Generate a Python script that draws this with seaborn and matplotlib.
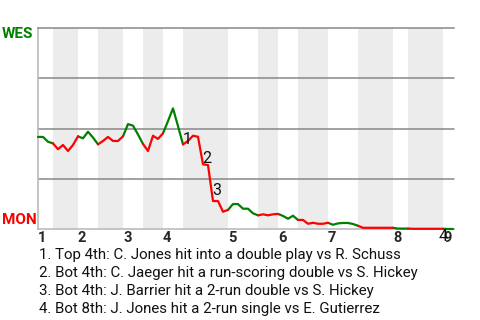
import matplotlib
matplotlib.use("Agg")
import matplotlib.pyplot as plt
import pandas as pd
import seaborn as sns

# ---------------- data ----------------
plays = list(range(84))
wes_prob = [0.458, 0.458, 0.434, 0.426, 0.397, 0.418, 0.388, 0.418, 0.461, 0.451,
            0.484, 0.455, 0.421, 0.438, 0.458, 0.438, 0.438, 0.461, 0.522, 0.514,
            0.470, 0.423, 0.388, 0.464, 0.448, 0.476, 0.537, 0.600, 0.512, 0.421,
            0.438, 0.464, 0.459, 0.322, 0.318, 0.139, 0.139, 0.086, 0.095, 0.124,
            0.124, 0.101, 0.101, 0.078, 0.068, 0.073, 0.068, 0.073, 0.075, 0.065,
            0.051, 0.066, 0.045, 0.045, 0.026, 0.031, 0.026, 0.026, 0.031, 0.021,
            0.028, 0.030, 0.030, 0.025, 0.016, 0.006, 0.006, 0.006, 0.006, 0.006,
            0.006, 0.006, 0.002, 0.002, 0.002, 0.001, 0.001, 0.001, 0.001, 0.001,
            0.001, 0.001, 0.000, 0.000]
half_starts = [0, 3, 8, 12, 17, 21, 25, 29, 38, 44, 48, 52, 58, 64, 71, 74, 81]
half_teams = ["WES", "MON"] * 8 + ["WES"]
inning_starts = [0, 8, 17, 25, 38, 48, 58, 71, 81]
inning_labels = ["1", "2", "3", "4", "5", "6", "7", "8", "9"]
event_plays = [29, 33, 35, 81]
event_labels = ["1", "2", "3", "4"]
event_texts = [
    "1. Top 4th: C. Jones hit into a double play vs R. Schuss",
    "2. Bot 4th: C. Jaeger hit a run-scoring double vs S. Hickey",
    "3. Bot 4th: J. Barrier hit a 2-run double vs S. Hickey",
    "4. Bot 8th: J. Jones hit a 2-run single vs E. Gutierrez",
]
away_team, home_team = "WES", "MON"

# ---------------- styling ----------------
sns.set_style("white")
plt.rcParams["font.family"] = ["Roboto", "DejaVu Sans"]
GREEN = "#008000"
RED = "#ff0000"
BAND = "#ececec"
GRID = "#888888"
SPINE = "#bbbbbb"
label_offsets = [(2.9, 3.6), (2.9, 4.2), (2.9, 7.6), (0.4, -5.9)]

# build segments (each half-inning includes the previous point)
rows = []
end_play = plays[-1]
for i, start in enumerate(half_starts):
    stop = half_starts[i + 1] if i + 1 < len(half_starts) else end_play
    for p in range(start, stop + 1):
        rows.append({"play": plays[p], "prob": wes_prob[p], "seg": i, "team": half_teams[i]})
df = pd.DataFrame(rows)

fig = plt.figure(figsize=(4.8, 3.2), dpi=100)
ax = fig.add_axes([38 / 480, 1 - 229 / 320, 416 / 480, 201 / 320])
ax.set_xlim(0, 83.2)
ax.set_ylim(0, 1)

# shaded bottom halves
for i in range(1, len(half_starts), 2):
    stop = half_starts[i + 1] if i + 1 < len(half_starts) else end_play
    ax.axvspan(half_starts[i], stop, color=BAND, lw=0, zorder=0)

for yv in [0.25, 0.5, 0.75]:
    ax.axhline(yv, color=GRID, lw=1.1, zorder=1)

sns.lineplot(data=df, x="play", y="prob", hue="team", units="seg", estimator=None,
             palette={away_team: GREEN, home_team: RED}, legend=False,
             linewidth=1.6, ax=ax, zorder=3, sort=False)
for line in ax.lines:
    line.set_clip_on(False)

ax.set_xlabel("")
ax.set_ylabel("")
ax.set_yticks([])
ax.set_xticks(inning_starts)
ax.set_xticklabels(inning_labels, fontsize=10.5, fontweight="bold", ha="left")
ax.tick_params(axis="x", length=0, pad=1.5)

ax.spines["right"].set_visible(False)
ax.spines["top"].set_color(GRID)
ax.spines["top"].set_linewidth(1.1)
ax.spines["left"].set_color(SPINE)
ax.spines["left"].set_linewidth(1.2)
ax.spines["bottom"].set_color(SPINE)
ax.spines["bottom"].set_linewidth(1.2)

for pl, lab, off in zip(event_plays, event_labels, label_offsets):
    ax.annotate(lab, (plays[pl], wes_prob[pl]), xytext=off, textcoords="offset points",
                ha="center", va="center", fontsize=11.5, color="#111111", zorder=5,
                annotation_clip=False)

fig.text(2 / 480, 1 - 34.5 / 320, away_team, color=GREEN, fontsize=11,
         fontweight="bold", ha="left", va="center")
fig.text(2 / 480, 1 - 220.5 / 320, home_team, color=RED, fontsize=11,
         fontweight="bold", ha="left", va="center")

for k, t in enumerate(event_texts):
    fig.text(39 / 480, 1 - (254.5 + k * 18) / 320, t, fontsize=10.8, color="#111111",
             ha="left", va="center")

fig.savefig("out.png", dpi=100)
